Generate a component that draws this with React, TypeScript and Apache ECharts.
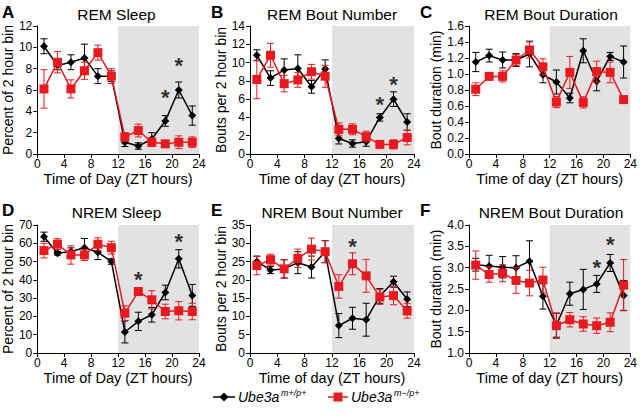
import React, { useEffect, useRef } from "react";
import * as echarts from "echarts";

const zt = [1, 3, 5, 7, 9, 11, 13, 15, 17, 19, 21, 23];

// A: REM Sleep
const remSleepWT = [10.1, 8.3, 8.6, 9.0, 7.3, 7.3, 1.1, 0.75, 1.4, 3.1, 6.0, 3.6];
const remSleepWTSem = [0.7, 0.4, 0.7, 1.3, 0.7, 0.5, 0.4, 0.3, 0.6, 0.5, 0.75, 0.9];
const remSleepKO = [6.1, 8.6, 6.1, 7.8, 9.5, 7.3, 1.6, 2.2, 1.1, 0.95, 1.1, 1.1];
const remSleepKOSem = [1.8, 1.0, 0.85, 0.8, 0.7, 0.7, 0.4, 0.6, 0.4, 0.3, 0.6, 0.5];
const remSleepStars = [[19, 5.8], [21, 8.8]];

// B: REM Bout Number
const remBoutWT = [10.8, 8.3, 9.2, 9.35, 7.35, 9.3, 1.7, 1.15, 1.35, 4.0, 6.0, 3.5];
const remBoutWTSem = [0.6, 0.8, 1.2, 1.5, 0.7, 1.0, 0.6, 0.4, 0.5, 0.4, 0.8, 0.9];
const remBoutKO = [8.15, 10.8, 7.7, 8.1, 9.0, 8.5, 2.7, 2.7, 1.9, 1.05, 1.05, 1.8];
const remBoutKOSem = [2.1, 1.3, 0.9, 0.8, 0.8, 1.2, 0.7, 0.6, 0.6, 0.3, 0.5, 0.8];
const remBoutStars = [[19, 6.0], [21, 8.2]];

// C: REM Bout Duration
const remDurWT = [1.15, 1.23, 1.175, 1.175, 1.25, 0.99, 0.9, 0.7, 1.29, 0.91, 1.22, 1.15];
const remDurWTSem = [0.12, 0.08, 0.1, 0.08, 0.16, 0.1, 0.15, 0.06, 0.15, 0.12, 0.05, 0.2];
const remDurKO = [0.81, 0.97, 0.97, 1.175, 1.3, 1.09, 0.65, 1.02, 0.645, 1.03, 1.02, 0.68];
const remDurKOSem = [0.08, 0.04, 0.07, 0.07, 0.1, 0.1, 0.07, 0.2, 0.07, 0.13, 0.13, 0.03];
const remDurStars: number[][] = [];

// D: NREM Sleep
const nremSleepWT = [63.6, 54.5, 55.5, 57.6, 55.1, 50.0, 11.5, 17.3, 20.9, 33.1, 51.5, 31.5];
const nremSleepWTSem = [2.5, 1, 2, 5, 4, 1.5, 6, 5, 4, 4, 5, 6];
const nremSleepKO = [56, 59.5, 53.6, 53.6, 59.5, 57.6, 21.8, 33.6, 29.1, 22.7, 23.1, 22.7];
const nremSleepKOSem = [4, 3, 5, 3, 3.5, 3.5, 4, 2, 5, 4, 5, 4.5];
const nremSleepStars = [[15, 43], [21, 63.6]];

// E: NREM Bout Number
const nremBoutWT = [25, 22.7, 23, 24.7, 23.5, 27.7, 7.5, 9.5, 9.1, 15.6, 19.5, 14.7];
const nremBoutWTSem = [1.5, 1, 2.5, 3, 3, 3, 3.3, 3, 4.5, 2, 1.5, 2];
const nremBoutKO = [23.9, 25.5, 23, 25.9, 28.4, 27.7, 18.2, 24.4, 21.1, 15.3, 15.7, 11.5];
const nremBoutKOSem = [2.5, 1.5, 2.5, 2.5, 3, 3, 3.2, 3, 4.5, 2, 2.5, 2];
const nremBoutStars = [[15, 30.5]];

// F: NREM Bout Duration
const nremDurWT = [3.07, 3.04, 3.01, 3.0, 3.15, 2.33, 1.65, 2.39, 2.49, 2.62, 3.11, 2.35];
const nremDurWTSem = [0.15, 0.25, 0.25, 0.28, 0.48, 0.3, 0.28, 0.27, 0.47, 0.2, 0.2, 0.35];
const nremDurKO = [3.06, 2.84, 2.87, 2.7, 2.64, 2.71, 1.64, 1.78, 1.68, 1.64, 1.72, 2.59];
const nremDurKOSem = [0.33, 0.18, 0.2, 0.3, 0.3, 0.3, 0.3, 0.17, 0.17, 0.18, 0.22, 0.6];
const nremDurStars = [[19, 3.11], [21, 3.66]];

const titles = ["REM Sleep", "REM Bout Number", "REM Bout Duration", "NREM Sleep", "NREM Bout Number", "NREM Bout Duration"];
const letters = ["A", "B", "C", "D", "E", "F"];
const xNames = ["Time of Day (ZT hours)", "Time of day (ZT hours)", "Time of day (ZT hours)", "Time of Day (ZT hours)", "Time of day (ZT hours)", "Time of day (ZT hours)"];
const yNames = ["Percent of 2 hour bin", "Bouts per 2 hour bin", "Bout duration (min)", "Percent of 2 hour bin", "Bouts per 2 hour bin", "Bout duration (min)"];
const yMins = [0, 0, 0, 0, 0, 1];
const yMaxs = [12, 14, 1.6, 70, 35, 4];
const yIntervals = [2, 2, 0.2, 10, 5, 0.5];
const darkStart = 12;
const darkEnd = 24;

const panelData = [
  [remSleepWT, remSleepWTSem, remSleepKO, remSleepKOSem, remSleepStars],
  [remBoutWT, remBoutWTSem, remBoutKO, remBoutKOSem, remBoutStars],
  [remDurWT, remDurWTSem, remDurKO, remDurKOSem, remDurStars],
  [nremSleepWT, nremSleepWTSem, nremSleepKO, nremSleepKOSem, nremSleepStars],
  [nremBoutWT, nremBoutWTSem, nremBoutKO, nremBoutKOSem, nremBoutStars],
  [nremDurWT, nremDurWTSem, nremDurKO, nremDurKOSem, nremDurStars],
];

const FONT = "Liberation Sans, Arial, sans-serif";
const RED = "#e8191f";
const BLACK = "#000";

const gridLeft = [34, 250, 469];
const gridWidth = [165, 164, 164];
const gridTop = [26, 225];
const gridHeight = 128;
const yNameGaps = [14, 17, 23];
const letterX = [2, 211, 420];
const titleY = [15, 213];
const letterY = [12, 210];

function errSeries(idx: number, means: number[], sems: number[], color: string, z: number) {
  return {
    type: "custom",
    xAxisIndex: idx,
    yAxisIndex: idx,
    z,
    silent: true,
    encode: { x: 0, y: 1 },
    data: zt.map((x, i) => [x, means[i], sems[i]]),
    renderItem: (params: any, api: any) => {
      const x = api.value(0), y = api.value(1), e = api.value(2);
      const t = api.coord([x, y + e]);
      const b = api.coord([x, y - e]);
      const hw = 3.5;
      const style = { stroke: color, lineWidth: 1, fill: null };
      return {
        type: "group",
        children: [
          { type: "line", shape: { x1: t[0], y1: t[1], x2: b[0], y2: b[1] }, style },
          { type: "line", shape: { x1: t[0] - hw, y1: t[1], x2: t[0] + hw, y2: t[1] }, style },
          { type: "line", shape: { x1: b[0] - hw, y1: b[1], x2: b[0] + hw, y2: b[1] }, style },
        ],
      };
    },
  };
}

export default function App() {
  const ref = useRef<HTMLDivElement>(null);
  useEffect(() => {
    document.body.style.margin = "0";
    const chart = echarts.init(ref.current!, null, { renderer: "svg" });
    const grid: any[] = [];
    const xAxis: any[] = [];
    const yAxis: any[] = [];
    const series: any[] = [];
    const title: any[] = [];
    const graphic: any[] = [];
    for (let i = 0; i < 6; i++) {
      const col = i % 3;
      const row = Math.floor(i / 3);
      grid.push({ left: gridLeft[col], top: gridTop[row], width: gridWidth[col], height: gridHeight });
      xAxis.push({
        type: "value", gridIndex: i, min: 0, max: 24, interval: 4,
        axisLine: { show: true, lineStyle: { color: BLACK, width: 1 } },
        axisTick: { show: true, length: 4, lineStyle: { color: BLACK } },
        axisLabel: { color: BLACK, fontSize: 12, margin: 4, fontFamily: FONT },
        splitLine: { show: false },
        name: xNames[i], nameLocation: "middle", nameGap: 17,
        nameTextStyle: { fontSize: 14.5, color: BLACK, fontFamily: FONT },
      });
      const dec = yIntervals[i] < 1 || i === 5;
      yAxis.push({
        type: "value", gridIndex: i, min: yMins[i], max: yMaxs[i], interval: yIntervals[i],
        axisLine: { show: true, lineStyle: { color: BLACK, width: 1 } },
        axisTick: { show: true, length: 4, lineStyle: { color: BLACK } },
        axisLabel: {
          color: BLACK, fontSize: 12, margin: 5, fontFamily: FONT,
          formatter: (v: number) => (dec ? v.toFixed(1) : String(v)),
        },
        splitLine: { show: false },
        name: yNames[i], nameLocation: "middle", nameGap: yNameGaps[col],
        nameTextStyle: { fontSize: 14, color: BLACK, fontFamily: FONT },
      });
      const [wt, wtSem, ko, koSem, stars] = panelData[i] as any;
      // dark-phase shading
      series.push({
        type: "custom", xAxisIndex: i, yAxisIndex: i, z: 1, silent: true,
        data: [[darkStart, darkEnd]],
        renderItem: (params: any, api: any) => {
          const p1 = api.coord([api.value(0), yMaxs[i]]);
          const p2 = api.coord([api.value(1), yMins[i]]);
          return { type: "rect", shape: { x: p1[0], y: p1[1], width: p2[0] - p1[0], height: p2[1] - p1[1] }, style: { fill: "#e2e2e2" } };
        },
      });
      series.push(errSeries(i, wt, wtSem, BLACK, 2));
      series.push({
        type: "line", xAxisIndex: i, yAxisIndex: i, z: 3, silent: true,
        data: zt.map((x, k) => [x, wt[k]]),
        symbol: "diamond", symbolSize: 8,
        itemStyle: { color: BLACK }, lineStyle: { color: BLACK, width: 1.5 },
      });
      series.push(errSeries(i, ko, koSem, RED, 4));
      series.push({
        type: "line", xAxisIndex: i, yAxisIndex: i, z: 5, silent: true,
        data: zt.map((x, k) => [x, ko[k]]),
        symbol: "rect", symbolSize: 9,
        itemStyle: { color: RED }, lineStyle: { color: RED, width: 1.5 },
      });
      series.push({
        type: "scatter", xAxisIndex: i, yAxisIndex: i, z: 6, silent: true,
        data: stars, symbolSize: 0,
        label: { show: true, formatter: "*", position: "inside", fontSize: 22, fontWeight: "bold", color: BLACK, fontFamily: FONT, offset: [0, 5] },
      });
      title.push({
        text: titles[i], left: gridLeft[col] + gridWidth[col] / 2, top: titleY[row] - 9, textAlign: "center",
        textStyle: { fontSize: 15.5, fontWeight: "normal", color: BLACK, fontFamily: FONT }, padding: 0,
      });
      graphic.push({
        type: "text", x: letterX[col], y: letterY[row],
        style: { text: letters[i], fontSize: 17, fontWeight: "bold", fill: BLACK, fontFamily: FONT, textVerticalAlign: "middle" },
      });
    }
    // legend
    const ly = 397;
    graphic.push(
      { type: "line", shape: { x1: 213, y1: ly, x2: 235, y2: ly }, style: { stroke: BLACK, lineWidth: 1.5 } },
      { type: "polygon", shape: { points: [[224, ly - 4.5], [228.5, ly], [224, ly + 4.5], [219.5, ly]] }, style: { fill: BLACK } },
      { type: "text", x: 238, y: ly, style: { text: "Ube3a", fontSize: 14, fontStyle: "italic", fill: BLACK, fontFamily: FONT, textVerticalAlign: "middle" } },
      { type: "text", x: 281, y: ly - 4, style: { text: "m+/p+", fontSize: 9, fontStyle: "italic", fill: BLACK, fontFamily: FONT, textVerticalAlign: "middle" } },
      { type: "line", shape: { x1: 328, y1: ly, x2: 348, y2: ly }, style: { stroke: RED, lineWidth: 1.5 } },
      { type: "rect", shape: { x: 333.5, y: ly - 4.5, width: 9, height: 9 }, style: { fill: RED } },
      { type: "text", x: 351, y: ly, style: { text: "Ube3a", fontSize: 14, fontStyle: "italic", fill: BLACK, fontFamily: FONT, textVerticalAlign: "middle" } },
      { type: "text", x: 394, y: ly - 4, style: { text: "m\u2212/p+", fontSize: 9, fontStyle: "italic", fill: BLACK, fontFamily: FONT, textVerticalAlign: "middle" } },
    );
    chart.setOption({ animation: false, backgroundColor: "#fff", grid, xAxis, yAxis, series, title, graphic });
    return () => chart.dispose();
  }, []);
  return <div ref={ref} style={{ width: 640, height: 416 }} />;
}
